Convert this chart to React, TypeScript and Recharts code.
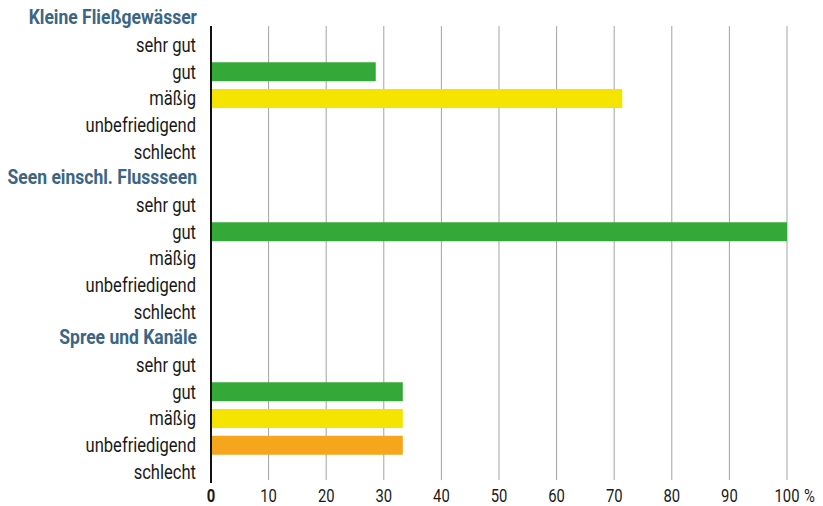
import { BarChart, Bar, XAxis, YAxis, CartesianGrid, ReferenceLine, Cell } from 'recharts';

// one row per line of the chart; group headers have no value
const labels = [
  'Kleine Fließgewässer', 'sehr gut', 'gut', 'mäßig', 'unbefriedigend', 'schlecht',
  'Seen einschl. Flussseen', 'sehr gut', 'gut', 'mäßig', 'unbefriedigend', 'schlecht',
  'Spree und Kanäle', 'sehr gut', 'gut', 'mäßig', 'unbefriedigend', 'schlecht',
];
const isHeader = [
  true, false, false, false, false, false,
  true, false, false, false, false, false,
  true, false, false, false, false, false,
];
const shares = [
  null, 0, 28.6, 71.4, 0, 0,
  null, 0, 100, 0, 0, 0,
  null, 0, 33.3, 33.3, 33.3, 0,
];
const xTicks = [0, 10, 20, 30, 40, 50, 60, 70, 80, 90, 100];

const classColors: Record<string, string> = {
  'sehr gut': '#2f6db5',
  gut: '#35a83a',
  'mäßig': '#f4e400',
  unbefriedigend: '#f5a61c',
  schlecht: '#e3221b',
};

const data = labels.map((label, i) => ({ id: `r${i}`, label, value: shares[i] }));

const FONT = 'Roboto, "Noto Sans", sans-serif';
// the original uses a condensed face, so squeeze the text horizontally
const LABEL_SQUEEZE = 0.85;
const TICK_SQUEEZE = 0.8;

const YTick = (props: any) => {
  const { x, y, payload } = props;
  const i = Number(String(payload.value).slice(1));
  const head = isHeader[i];
  return (
    <text
      transform={`translate(${head ? x + 1 : x},${y}) scale(${LABEL_SQUEEZE},1)`}
      x={0}
      y={0}
      dy={head ? 6 : 7}
      textAnchor="end"
      fontFamily={FONT}
      fontSize={head ? 20.6 : 19.5}
      fontWeight={head ? 700 : 400}
      fill={head ? '#3b6584' : '#1a1a1a'}
    >
      {labels[i]}
    </text>
  );
};

const XTick = (props: any) => {
  const { x, y, payload } = props;
  const v = payload.value;
  return (
    <g>
      <text
        transform={`translate(${x},${y}) scale(${TICK_SQUEEZE},1)`}
        x={0}
        y={0}
        dy={9}
        textAnchor="middle"
        fontFamily={FONT}
        fontSize={18.5}
        fontWeight={v === 0 ? 700 : 400}
        fill="#1a1a1a"
      >
        {v}
      </text>
      {v === 100 && (
        <text
          transform={`translate(${x + 17},${y}) scale(${TICK_SQUEEZE},1)`}
          x={0}
          y={0}
          dy={9}
          textAnchor="start"
          fontFamily={FONT}
          fontSize={18.5}
          fill="#1a1a1a"
        >
          %
        </text>
      )}
    </g>
  );
};

const GridLine = (props: any) => {
  const { x1, x2, y1, y2 } = props;
  if (x1 < 215) return <g />;
  const top = Math.min(y1, y2);
  const bottom = Math.max(y1, y2);
  return <line x1={x1} x2={x2} y1={top + 21} y2={bottom - 5} stroke="#a3a3a3" strokeWidth={1} />;
};

const AxisLine = (props: any) => {
  const { x1, x2, y1, y2 } = props;
  const top = Math.min(y1, y2);
  const bottom = Math.max(y1, y2);
  return <line x1={x1} x2={x2} y1={top + 21} y2={bottom - 2} stroke="#111" strokeWidth={2} />;
};

export default function App() {
  return (
    <div style={{ position: 'absolute', left: 0, top: 0, background: '#fff' }}>
      <BarChart
        width={823}
        height={506}
        data={data}
        layout="vertical"
        margin={{ top: 5, right: 36, left: 0, bottom: 0 }}
        barSize={19}
      >
        <CartesianGrid horizontal={false} vertical={GridLine} />
        <XAxis
          type="number"
          domain={[0, 100]}
          ticks={xTicks}
          axisLine={false}
          tickLine={false}
          height={21}
          tick={<XTick />}
        />
        <YAxis
          type="category"
          dataKey="id"
          width={211}
          axisLine={false}
          tickLine={false}
          tickMargin={9}
          interval={0}
          tick={<YTick />}
        />
        <Bar dataKey="value" isAnimationActive={false}>
          {data.map((d) => (
            <Cell key={d.id} fill={classColors[d.label] || '#ccc'} />
          ))}
        </Bar>
        <ReferenceLine x={0} shape={AxisLine} />
      </BarChart>
    </div>
  );
}
